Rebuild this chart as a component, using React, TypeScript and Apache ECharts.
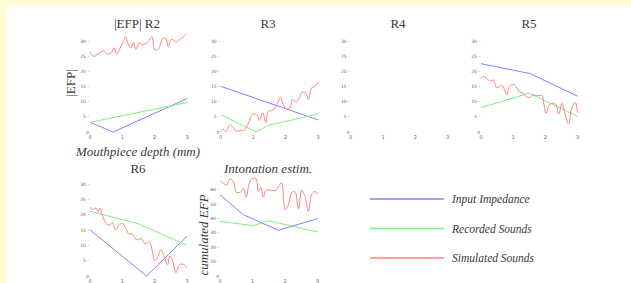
import React, { useEffect, useRef } from "react";
import * as echarts from "echarts";

// ---------- data ----------
const seriesNames = ["Input Impedance", "Recorded Sounds", "Simulated Sounds"];
const panelTitles = ["|EFP| R2", "R3", "R4", "R5", "R6", "Intonation estim."];

const r2Impedance = [[0, 3.2], [0.72, 0], [3, 11.1]];
const r2Recorded = [[0, 3.2], [3, 9.8]];
const r2Simulated = [
  [0, 26.7], [0.12, 25.1], [0.31, 26.4], [0.41, 27.0], [0.54, 25.9], [0.67, 26.5], [0.74, 28.0],
  [0.82, 25.8], [0.93, 27.8], [1.01, 29.5], [1.1, 31.6], [1.19, 28.9], [1.27, 28.0], [1.34, 29.7],
  [1.42, 27.6], [1.53, 29.7], [1.63, 29.1], [1.75, 29.5], [1.91, 31.6], [2.01, 27.3], [2.11, 27.5],
  [2.27, 31.1], [2.34, 31.1], [2.42, 28.4], [2.53, 30.8], [2.68, 30.0], [2.78, 30.8], [2.89, 31.6], [3, 32.7],
];

const r3Impedance = [[0, 15.2], [3, 4.0]];
const r3Recorded = [[0, 5.8], [1.08, 0], [1.46, 2.2], [3, 6.0]];
const r3Simulated = [
  [0, 0.1], [0.08, 0.9], [0.16, 0.1], [0.29, 2.5], [0.39, 1.4], [0.49, 0.3], [0.64, 0.5], [0.75, 0.8],
  [0.88, 3.6], [1.0, 6.0], [1.11, 5.8], [1.19, 3.8], [1.29, 6.4], [1.39, 3.1], [1.46, 6.9], [1.57, 7.1],
  [1.67, 8.0], [1.77, 10.0], [1.84, 11.5], [1.92, 9.3], [2.03, 7.5], [2.13, 8.0], [2.21, 10.7], [2.33, 10.0],
  [2.42, 11.5], [2.52, 13.3], [2.62, 13.0], [2.7, 10.8], [2.79, 14.6], [2.9, 15.2], [3, 16.6],
];

const r5Impedance = [[0, 22.7], [1.53, 19.4], [3, 11.9]];
const r5Recorded = [[0, 8.1], [1.5, 12.9], [3, 5.2]];
const r5Simulated = [
  [0, 17.8], [0.07, 18.4], [0.18, 17.8], [0.28, 16.9], [0.38, 17.3], [0.49, 14.7], [0.57, 15.1],
  [0.64, 15.6], [0.73, 14.0], [0.8, 12.3], [0.88, 15.1], [0.99, 15.8], [1.09, 15.1], [1.19, 13.4],
  [1.3, 12.9], [1.4, 11.8], [1.51, 11.4], [1.61, 12.3], [1.71, 12.1], [1.89, 12.1], [1.96, 9.0],
  [2.02, 6.3], [2.13, 9.0], [2.23, 9.6], [2.34, 9.0], [2.42, 5.9], [2.52, 9.6], [2.62, 5.7],
  [2.72, 2.7], [2.82, 7.9], [2.93, 9.9], [3, 6.3],
];

const r6Impedance = [[0, 15.1], [1.75, 0], [3, 13.0]];
const r6Recorded = [[0, 21.2], [1.52, 17.0], [3, 10.0]];
const r6Simulated = [
  [0, 22.6], [0.07, 21.7], [0.18, 22.2], [0.26, 21.1], [0.3, 22.2], [0.4, 19.4], [0.49, 17.2],
  [0.59, 16.7], [0.69, 17.4], [0.8, 15.0], [0.9, 16.7], [1.0, 17.2], [1.11, 15.6], [1.19, 13.9],
  [1.31, 13.7], [1.44, 11.9], [1.57, 12.2], [1.71, 10.6], [1.83, 11.1], [1.93, 8.1], [2.0, 5.0],
  [2.09, 6.1], [2.19, 8.6], [2.3, 6.1], [2.4, 3.7], [2.47, 6.7], [2.55, 5.2], [2.66, 1.1],
  [2.76, 3.7], [2.86, 3.9], [3, 2.6],
];

const cumImpedance = [[0, 56.6], [0.72, 42.7], [1.79, 31.9], [3, 40.0]];
const cumRecorded = [[0, 38.1], [1.02, 35.1], [1.48, 38.6], [3, 30.7]];
const cumSimulated = [
  [0, 66.5], [0.1, 64.7], [0.2, 63.5], [0.31, 67.7], [0.41, 65.8], [0.51, 58.2], [0.61, 58.2],
  [0.72, 61.2], [0.8, 55.0], [0.9, 64.7], [1.0, 68.1], [1.11, 67.7], [1.18, 58.9], [1.25, 61.7],
  [1.33, 55.0], [1.41, 59.6], [1.54, 60.0], [1.69, 59.4], [1.79, 62.4], [1.89, 65.1], [2.0, 46.2],
  [2.1, 49.7], [2.2, 58.2], [2.3, 58.9], [2.41, 46.9], [2.51, 60.0], [2.61, 55.4], [2.71, 45.0],
  [2.81, 56.6], [2.92, 58.9], [3, 57.0],
];

const panelData = [
  [r2Impedance, r2Recorded, r2Simulated],
  [r3Impedance, r3Recorded, r3Simulated],
  [[], [], []],
  [r5Impedance, r5Recorded, r5Simulated],
  [r6Impedance, r6Recorded, r6Simulated],
  [cumImpedance, cumRecorded, cumSimulated],
];
const yMax = [30, 30, 30, 30, 30, 70];
const yInterval = [5, 5, 5, 5, 5, 10];
const yTopLabel = [30, 30, 30, 30, 30, 60];

// ---------- layout ----------
const grids = [
  { left: 90, top: 41.7, width: 97, height: 90.3 },
  { left: 220.7, top: 41.7, width: 97.5, height: 90.3 },
  { left: 350.7, top: 41.7, width: 97, height: 90.3 },
  { left: 481, top: 41.7, width: 96.5, height: 90.3 },
  { left: 90, top: 184.3, width: 97, height: 92.4 },
  { left: 220, top: 175.6, width: 97.7, height: 101.1 },
];
const titlePos = [
  [137, 23], [268, 23], [398, 23], [529, 23], [138, 168.5], [268, 168.5],
];
const colors = ["#8080ff", "#80ee80", "#ff8080"];
const textColor = "#3a3a3a";
const serif = "'Liberation Serif', 'DejaVu Serif', serif";

export default function App() {
  const ref = useRef<HTMLDivElement>(null);
  useEffect(() => {
    if (!ref.current) return;
    const chart = echarts.init(ref.current, undefined, { renderer: "svg" });
    const xAxis: any[] = [];
    const yAxis: any[] = [];
    const series: any[] = [];
    grids.forEach((_, i) => {
      xAxis.push({
        type: "value", gridIndex: i, min: 0, max: 3, interval: 1,
        axisLine: { show: false }, axisTick: { show: false }, splitLine: { show: false },
        axisLabel: { fontSize: 5, color: "#666", margin: 2, fontFamily: "'DejaVu Sans', sans-serif" },
      });
      yAxis.push({
        type: "value", gridIndex: i, min: 0, max: yMax[i], interval: yInterval[i],
        axisLine: { show: false }, axisTick: { show: false }, splitLine: { show: false },
        axisLabel: {
          fontSize: 4.5, color: "#666", margin: 1, fontFamily: "'DejaVu Sans', sans-serif",
          formatter: (v: number) => (v === 0 ? "0" : v > yTopLabel[i] ? "" : `${v} -`),
        },
      });
      panelData[i].forEach((d, k) => {
        series.push({
          name: seriesNames[k], type: "line", xAxisIndex: i, yAxisIndex: i,
          data: d, showSymbol: false, symbol: "none", smooth: k === 2 ? 0.35 : false,
          clip: false,
          color: colors[k],
          lineStyle: { color: colors[k], width: 1 },
          itemStyle: { color: colors[k] },
        });
      });
    });

    const graphics: any[] = panelTitles.map((t, i) => ({
      type: "text", x: titlePos[i][0], y: titlePos[i][1],
      style: {
        text: t, fill: textColor, align: "center", verticalAlign: "middle",
        font: `${i === 5 ? "italic " : ""}13px ${serif}`,
      },
    }));
    graphics.push(
      { type: "text", x: 138, y: 151.5, style: { text: "Mouthpiece depth (mm)", fill: textColor, align: "center", verticalAlign: "middle", font: `italic 13px ${serif}` } },
      { type: "text", x: 70, y: 83, rotation: Math.PI / 2, style: { text: "|EFP|", fill: textColor, align: "center", verticalAlign: "middle", font: `13px ${serif}` } },
      { type: "text", x: 203, y: 235, rotation: Math.PI / 2, style: { text: "cumulated EFP", fill: textColor, align: "center", verticalAlign: "middle", font: `italic 13px ${serif}` } },
    );

    chart.setOption({
      animation: false,
      backgroundColor: "transparent",
      grid: grids.map((g) => ({ ...g, containLabel: false })),
      xAxis, yAxis, series,
      legend: {
        data: seriesNames, orient: "vertical", left: 370, top: 192, padding: 0,
        icon: "rect", itemWidth: 74, itemHeight: 1.5, itemGap: 15.5,
        selectedMode: false,
        textStyle: { fontSize: 11.5, fontStyle: "italic", fontFamily: serif, color: textColor, lineHeight: 14, padding: [0, 0, 0, 3] },
      },
      graphic: { elements: graphics },
    });
    return () => chart.dispose();
  }, []);

  return (
    <div style={{ position: "fixed", left: 0, top: 0, width: 631, height: 283, background: "#fffbd2" }}>
      <div style={{ position: "absolute", left: 6, top: 6, width: 625, height: 277, background: "#ffffff" }} />
      <div ref={ref} style={{ position: "absolute", left: 0, top: 0, width: 631, height: 283 }} />
    </div>
  );
}
